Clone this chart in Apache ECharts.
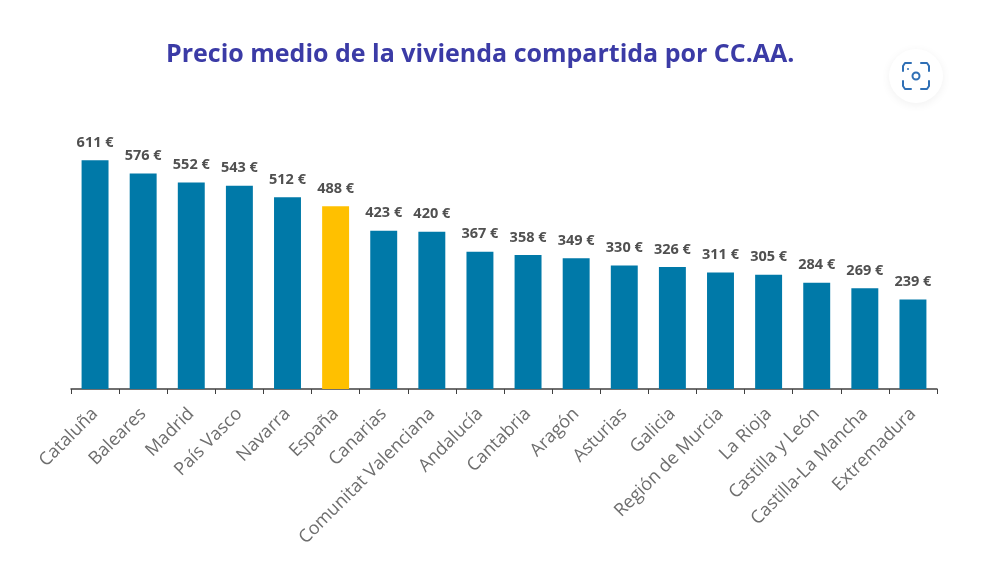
<!DOCTYPE html>
<html>
<head>
<meta charset="utf-8">
<script src="https://cdn.jsdelivr.net/npm/echarts@6/dist/echarts.min.js"></script>
<style>
  html, body { margin: 0; padding: 0; background: #fff; }
  #main { width: 1000px; height: 567px; }
</style>
</head>
<body>
<div id="main"></div>
<script>
var regiones = ['Cataluña', 'Baleares', 'Madrid', 'País Vasco', 'Navarra', 'España', 'Canarias',
  'Comunitat Valenciana', 'Andalucía', 'Cantabria', 'Aragón', 'Asturias', 'Galicia',
  'Región de Murcia', 'La Rioja', 'Castilla y León', 'Castilla-La Mancha', 'Extremadura'];
var precios = [611, 576, 552, 543, 512, 488, 423, 420, 367, 358, 349, 330, 326, 311, 305, 284, 269, 239];
var destacada = 'España';

var myChart = echarts.init(document.getElementById('main'));
var fuente = '"Open Sans", "Noto Sans", sans-serif';
var azulLente = '#2f6fb5';

// esquina del visor de la lente
function esquina(puntos) {
  return {
    type: 'polyline',
    shape: { points: puntos },
    style: { fill: null, stroke: azulLente, lineWidth: 2, lineCap: 'round', lineJoin: 'round' }
  };
}

var option = {
  animation: false,
  backgroundColor: '#ffffff',
  title: {
    text: 'Precio medio de la vivienda compartida por CC.AA.',
    left: 161,
    top: 37,
    textStyle: { color: '#3b3ba6', fontSize: 25, fontWeight: 'bold', fontFamily: fuente }
  },
  grid: { left: 71, right: 63, top: 127, bottom: 178 },
  xAxis: {
    type: 'category',
    data: regiones,
    axisLine: { lineStyle: { color: '#404040', width: 1.5 } },
    axisTick: { show: true, alignWithLabel: false, length: 5, lineStyle: { color: '#404040' } },
    axisLabel: {
      interval: 0,
      rotate: 45,
      margin: 22,
      color: '#6e6e6e',
      fontSize: 18,
      fontFamily: fuente
    }
  },
  yAxis: { type: 'value', min: 0, max: 700, show: false, splitLine: { show: false } },
  series: [{
    type: 'bar',
    barWidth: '56%',
    data: precios.map(function (v, i) {
      return { value: v, itemStyle: { color: regiones[i] === destacada ? '#ffc000' : '#0079a8' } };
    }),
    label: {
      show: true,
      position: 'top',
      distance: 10,
      formatter: '{c} €',
      color: '#505050',
      fontSize: 14.5,
      fontWeight: 'bold',
      fontFamily: fuente
    }
  }],
  // boton de la lente, encima de la imagen original
  graphic: [
    {
      type: 'circle',
      shape: { cx: 916, cy: 76, r: 27 },
      style: { fill: '#ffffff', shadowBlur: 10, shadowColor: 'rgba(0,0,0,0.06)', shadowOffsetY: 2 }
    },
    esquina([[903, 71], [903, 66], [905, 63], [911, 63]]),
    esquina([[921, 63], [927, 63], [929, 66], [929, 71]]),
    esquina([[929, 81], [929, 86], [927, 89], [921, 89]]),
    esquina([[911, 89], [905, 89], [903, 86], [903, 81]]),
    {
      type: 'circle',
      shape: { cx: 916, cy: 76, r: 3.5 },
      style: { fill: null, stroke: azulLente, lineWidth: 2 }
    },
    {
      type: 'circle',
      shape: { cx: 908, cy: 69, r: 1 },
      style: { fill: azulLente }
    }
  ]
};
myChart.setOption(option);
</script>
</body>
</html>
